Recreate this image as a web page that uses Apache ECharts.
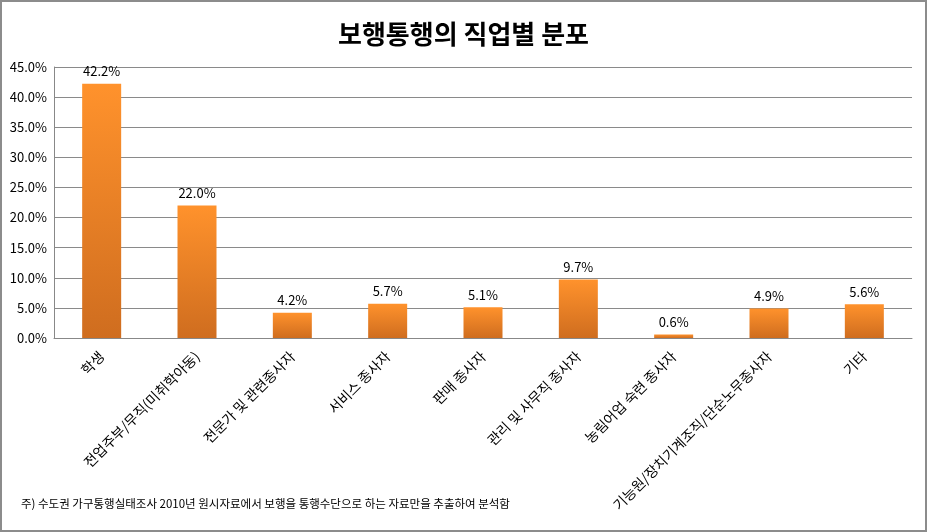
<!DOCTYPE html>
<html>
<head>
<meta charset="utf-8">
<script src="https://cdn.jsdelivr.net/npm/echarts@6/dist/echarts.min.js"></script>
<style>
    body { margin: 0; background: #fff; }
    #chart { width: 927px; height: 532px; }
</style>
</head>
<body>
<div id="chart"></div>
<script>
// 직업 분류
const categories = [
    '학생',
    '전업주부/무직(미취학아동)',
    '전문가 및 관련종사자',
    '서비스 종사자',
    '판매 종사자',
    '관리 및 사무직 종사자',
    '농림어업 숙련 종사자',
    '기능원/장치기계조직/단순노무종사자',
    '기타'
]
// 비율 (%)
const shares = [42.2, 22.0, 4.2, 5.7, 5.1, 9.7, 0.6, 4.9, 5.6]
const yTicks = { min: 0, max: 45, interval: 5 }

const font = '"Noto Sans CJK KR", sans-serif'
const myChart = echarts.init(document.getElementById('chart'))
myChart.setOption({
    backgroundColor: '#fff',
    textStyle: { fontFamily: font },
    title: {
        text: '보행통행의 직업별 분포',
        left: 'center',
        top: 16,
        textStyle: { fontSize: 26, fontWeight: 'bold', color: '#000', fontFamily: font }
    },
    graphic: [{
        type: 'rect',
        shape: { x: 1, y: 1, width: 925, height: 530 },
        style: { fill: 'none', stroke: '#8c8c8c', lineWidth: 2 }
    }, {
        type: 'text',
        left: 21,
        top: 498,
        style: {
            text: '주) 수도권 가구통행실태조사 2010년 원시자료에서 보행을 통행수단으로 하는 자료만을 추출하여 분석함',
            fill: '#000',
            fontSize: 11.5,
            fontFamily: font
        }
    }],
    grid: { left: 54, right: 15, top: 67, bottom: 194 },
    xAxis: {
        type: 'category',
        data: categories,
        axisLine: { lineStyle: { color: '#888' } },
        axisTick: { show: false },
        axisLabel: { rotate: 45, interval: 0, fontSize: 14, color: '#000', margin: 16 }
    },
    yAxis: {
        type: 'value',
        min: yTicks.min,
        max: yTicks.max,
        interval: yTicks.interval,
        axisLine: { show: true, lineStyle: { color: '#888' } },
        axisTick: { show: false },
        splitLine: { lineStyle: { color: '#8a8a8a' } },
        axisLabel: {
            fontSize: 13,
            color: '#000',
            margin: 7,
            formatter: v => v.toFixed(1) + '%'
        }
    },
    series: [{
        type: 'bar',
        barWidth: 39,
        data: shares,
        itemStyle: {
            color: new echarts.graphic.LinearGradient(0, 0, 0, 1, [
                { offset: 0, color: '#ff922c' },
                { offset: 1, color: '#cf6d1f' }
            ])
        },
        label: {
            show: true,
            position: 'top',
            distance: 6,
            fontSize: 13,
            color: '#000',
            formatter: p => p.value.toFixed(1) + '%'
        }
    }]
})
</script>
</body>
</html>
